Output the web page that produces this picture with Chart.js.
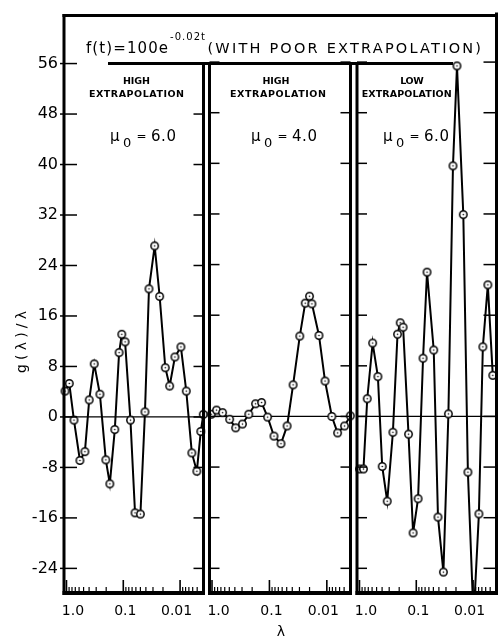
<!DOCTYPE html>
<html><head><meta charset="utf-8">
<script src="https://cdn.jsdelivr.net/npm/chart.js@4.4.1/dist/chart.umd.min.js"></script>
<style>
html,body{margin:0;padding:0;background:#fff;}
#wrap{position:relative;width:498px;height:636px;overflow:hidden;background:#fff;}
#wrap canvas{position:absolute;left:0;top:0;}
</style></head><body>
<div id="wrap">
<canvas id="c1" width="498" height="636"></canvas>
<canvas id="c2" width="498" height="636"></canvas>
<canvas id="c3" width="498" height="636"></canvas>
</div>
<script>
// ---------------- data ----------------
const lambdaP1 = [1.06, 0.893, 0.739, 0.580, 0.474, 0.398, 0.325, 0.258, 0.203, 0.1726, 0.141, 0.1185, 0.1062, 0.0930, 0.0748, 0.0621, 0.0499, 0.0415, 0.0353, 0.0280, 0.0229, 0.0182, 0.01527, 0.01234, 0.00968, 0.00778, 0.00621, 0.00507, 0.00432, 0.00390];
const gP1 = [4.1, 5.3, -0.5, -6.9, -5.5, 2.7, 8.4, 3.6, -6.8, -10.6, -2.0, 10.2, 13.1, 11.9, -0.5, -15.2, -15.4, 0.8, 20.3, 27.1, 19.1, 7.8, 4.9, 9.5, 11.1, 4.1, -5.7, -8.6, -2.3, 0.4];

const lambdaP2 = [1.03, 0.834, 0.654, 0.493, 0.387, 0.295, 0.229, 0.1747, 0.137, 0.1075, 0.0834, 0.0629, 0.0492, 0.0387, 0.0296, 0.0238, 0.0200, 0.01818, 0.0137, 0.01075, 0.00817, 0.0065, 0.00492, 0.0039];
const gP2 = [0.35, 1.0, 0.6, -0.45, -1.8, -1.2, 0.35, 2.0, 2.2, -0.1, -3.1, -4.3, -1.5, 5.0, 12.7, 17.9, 19.0, 17.8, 12.8, 5.6, 0.0, -2.6, -1.5, 0.1];

const lambdaP3 = [1.0, 0.851, 0.730, 0.587, 0.474, 0.398, 0.325, 0.258, 0.214, 0.192, 0.1705, 0.1371, 0.1138, 0.0930, 0.0760, 0.0647, 0.0493, 0.0415, 0.0333, 0.0272, 0.0226, 0.0192, 0.01486, 0.01234, 0.0098, 0.0079, 0.00673, 0.0055, 0.0045];
const gP3 = [-8.3, -8.3, 2.8, 11.6, 6.3, -7.9, -13.4, -2.5, 13.0, 14.8, 14.1, -2.8, -18.4, -13.0, 9.2, 22.8, 10.5, -15.9, -24.6, 0.4, 39.6, 55.4, 31.9, -8.8, -32.0, -15.4, 11.0, 20.8, 6.5];

const yTickValues = [-24, -16, -8, 0, 8, 16, 24, 32, 40, 48, 56];
const xTickValues = [1, 0.1, 0.01];
const xTickLabels = ['1.0', '0.1', '0.01'];
const panelLine1 = ['HIGH', 'HIGH', 'LOW'];
const panelLine2 = ['EXTRAPOLATION', 'EXTRAPOLATION', 'EXTRAPOLATION'];
const panelMuValue = ['6.0', '4.0', '6.0'];
const titleMain = 'f(t)=100e';
const titleExp = '-0.02t';
const titleRest = '(WITH POOR EXTRAPOLATION)';
const yAxisTitle = 'g(λ)/λ';
const xAxisTitle = 'λ';

// ---------------- style / layout ----------------
const FONT = '"DejaVu Sans", "Liberation Sans", sans-serif';
const X_MIN = 0.00387, X_MAX = 1.106;
const Y_MIN = -27.9, Y_MAX = 63.6;
const PANEL_PAD = [{l: 0, r: 294.5}, {l: 209.5, r: 147.5}, {l: 357, r: 1.5}];
const X_LABEL_SHIFT = [6.5, 2, -3.5];
const LABEL_POS = [
  {c1: 136.5, w1: 27, c2: 136.5, w2: 95, mu: 110},
  {c1: 276, w1: 27, c2: 278, w2: 96, mu: 251},
  {c1: 412, w1: 23.5, c2: 406.7, w2: 90, mu: 383}
];

// point marker: open circle with small centre dot
const marker = document.createElement('canvas');
marker.width = 11; marker.height = 11;
(function(){
  const m = marker.getContext('2d');
  m.beginPath(); m.arc(5.5, 5.5, 3.7, 0, Math.PI * 2);
  m.fillStyle = '#fff'; m.fill();
  m.lineWidth = 1.5; m.strokeStyle = '#000'; m.stroke();
  m.beginPath(); m.arc(5.5, 5.5, 0.8, 0, Math.PI * 2);
  m.fillStyle = '#000'; m.fill();
})();

function seg(ctx, x1, y1, x2, y2, w) {
  ctx.lineWidth = w; ctx.beginPath(); ctx.moveTo(x1, y1); ctx.lineTo(x2, y2); ctx.stroke();
}
function drawFit(ctx, text, x, y, w, align) {
  const hasLS = 'letterSpacing' in ctx;
  if (hasLS) ctx.letterSpacing = '0px';
  const n = [...text].length;
  const m = ctx.measureText(text).width;
  let s = (n > 1 && hasLS) ? (w - m) / (n - 1) : 0;
  if (hasLS) ctx.letterSpacing = s + 'px';
  const total = m + s * (n - 1);
  const left = align === 'center' ? x - total / 2 : x;
  ctx.textAlign = 'left';
  ctx.fillText(text, left, y);
  if (hasLS) ctx.letterSpacing = '0px';
}

function panelPlugin(idx) {
  return {
    id: 'panel' + idx,
    beforeDatasetsDraw(chart) {
      const {ctx, chartArea: a, scales: {y}} = chart;
      const y0 = y.getPixelForValue(0);
      ctx.save(); ctx.strokeStyle = '#000';
      seg(ctx, a.left, y0, a.right, y0, 1.2);
      ctx.restore();
    },
    afterDatasetsDraw(chart) {
      const {ctx, chartArea: a, scales: {x, y}} = chart;
      ctx.save(); ctx.strokeStyle = '#000'; ctx.fillStyle = '#000'; ctx.lineCap = 'butt';
      const ruleY = y.getPixelForValue(56);
      const topL = idx === 0 ? a.top - 1.5 : ruleY;
      const topR = idx === 2 ? a.top - 1.5 : ruleY;
      seg(ctx, a.left, topL, a.left, a.bottom + 2, 3);
      seg(ctx, a.right, topR, a.right, a.bottom + 2, 3);
      seg(ctx, a.left - 1.5, a.bottom, a.right + 1.5, a.bottom, 4);
      yTickValues.forEach(v => {
        const py = y.getPixelForValue(v);
        if (idx === 0) seg(ctx, a.left - 4, py, a.left + 13, py, 1.5);
        else seg(ctx, a.left, py, a.left + 10, py, 1.5);
        seg(ctx, a.right - (idx === 2 ? 13 : 10), py, a.right, py, 1.5);
      });
      for (let e = 0; e >= -3; e--) {
        for (let k = 1; k <= 9; k++) {
          const v = k * Math.pow(10, e);
          if (v < X_MIN || v > X_MAX) continue;
          const px = x.getPixelForValue(v);
          seg(ctx, px, a.bottom, px, a.bottom - (k === 1 ? 13 : 6), k === 1 ? 1.6 : 1.2);
        }
      }
      ctx.font = '14px ' + FONT; ctx.textAlign = 'center'; ctx.textBaseline = 'alphabetic';
      xTickValues.forEach((v, i) => {
        ctx.fillText(xTickLabels[i], x.getPixelForValue(v) + X_LABEL_SHIFT[i], 614.5);
      });
      // panel annotations
      const L = LABEL_POS[idx];
      ctx.font = 'bold 9.5px ' + FONT;
      drawFit(ctx, panelLine1[idx], L.c1, 83.5, L.w1, 'center');
      drawFit(ctx, panelLine2[idx], L.c2, 97, L.w2, 'center');
      ctx.font = '15px ' + FONT; ctx.textAlign = 'left';
      ctx.fillText('μ', L.mu, 141);
      ctx.font = '13px ' + FONT;
      ctx.fillText('0', L.mu + 13, 147);
      ctx.font = '12px ' + FONT;
      ctx.fillText('=', L.mu + 26.5, 140);
      ctx.font = '15px ' + FONT;
      drawFit(ctx, panelMuValue[idx], L.mu + 41, 141, 25, 'left');
      if (idx === 0) {
        const R = 498 - PANEL_PAD[2].r;
        seg(ctx, a.left - 1.5, a.top, R + 1.5, a.top, 3);
        seg(ctx, 108, ruleY, 453, ruleY, 3);
        ctx.font = '15px ' + FONT;
        drawFit(ctx, titleMain, 86, 53, 82, 'left');
        ctx.font = '10px ' + FONT;
        drawFit(ctx, titleExp, 170, 40, 35, 'left');
        ctx.font = '14.5px ' + FONT;
        drawFit(ctx, titleRest, 207.5, 52.5, 273.5, 'left');
        ctx.save();
        ctx.translate(22.5, 342); ctx.rotate(-Math.PI / 2);
        ctx.font = '14px ' + FONT; ctx.textBaseline = 'middle';
        drawFit(ctx, yAxisTitle, 0, 0, 62, 'center');
        ctx.restore();
        ctx.font = '14px ' + FONT; ctx.textAlign = 'center'; ctx.textBaseline = 'alphabetic';
        ctx.fillText(xAxisTitle, 281, 635.5);
      }
      ctx.restore();
    }
  };
}

function makePanel(id, idx, lam, g) {
  return new Chart(document.getElementById(id), {
    type: 'line',
    data: {
      datasets: [{
        data: lam.map((v, i) => ({x: v, y: g[i]})),
        borderColor: '#000',
        borderWidth: 2,
        pointStyle: marker,
        pointRadius: 4,
        tension: 0,
        fill: false,
        clip: {left: 8, right: 8, top: 8, bottom: 0}
      }]
    },
    options: {
      responsive: false,
      animation: false,
      events: [],
      devicePixelRatio: 1,
      layout: {autoPadding: false, padding: {left: PANEL_PAD[idx].l, right: PANEL_PAD[idx].r, top: 14, bottom: 0}},
      plugins: {legend: {display: false}, tooltip: {enabled: false}, title: {display: false}},
      scales: {
        x: {
          type: 'logarithmic', reverse: true, min: X_MIN, max: X_MAX, bounds: 'data',
          grid: {display: false, drawTicks: false}, border: {display: false},
          ticks: {display: false},
          afterBuildTicks: s => { s.ticks = xTickValues.map(v => ({value: v})); },
          afterFit: s => { s.height = 43; }
        },
        y: {
          type: 'linear', display: idx === 0, min: Y_MIN, max: Y_MAX, bounds: 'data',
          grid: {display: false, drawTicks: false}, border: {display: false},
          ticks: {color: '#000', font: {family: FONT, size: 16}, padding: 6},
          afterBuildTicks: s => { s.ticks = yTickValues.map(v => ({value: v})); },
          afterFit: s => { if (idx === 0) s.width = 64; }
        }
      }
    },
    plugins: [panelPlugin(idx)]
  });
}

makePanel('c1', 0, lambdaP1, gP1);
makePanel('c2', 1, lambdaP2, gP2);
makePanel('c3', 2, lambdaP3, gP3);
</script>
</body></html>
